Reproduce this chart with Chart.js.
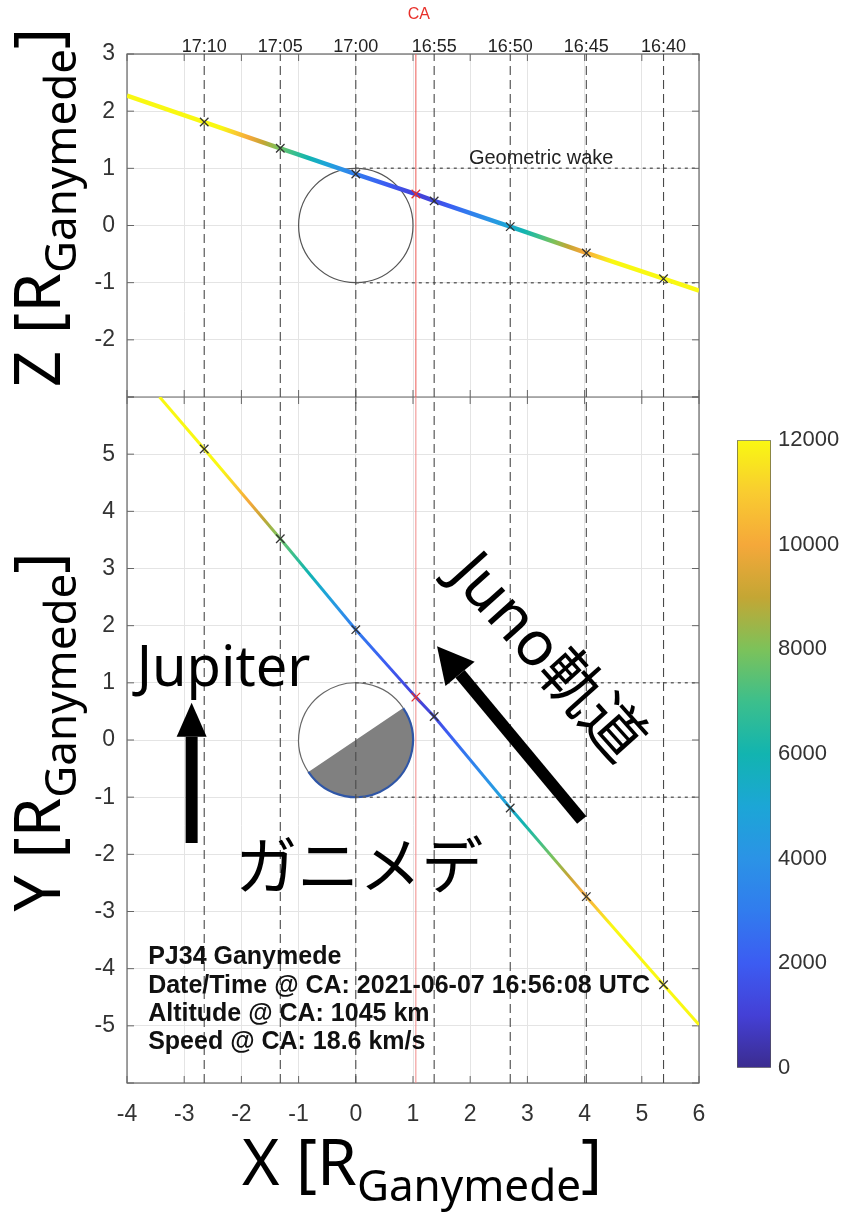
<!DOCTYPE html>
<html lang="ja">
<head>
<meta charset="UTF-8">
<title>PJ34 Ganymede flyby geometry</title>
<script src="https://cdn.jsdelivr.net/npm/chart.js"></script>
<style>
  html, body { margin: 0; padding: 0; background: #fff; }
  #wrap { position: relative; width: 856px; height: 1216px; overflow: hidden; }
  #main { position: absolute; left: 0; top: 0; }
  #cbar { position: absolute; left: 730px; top: 420px; }
</style>
</head>
<body>
<div id="wrap">
  <canvas id="main" width="856" height="1216"></canvas>
  <canvas id="cbar" width="126" height="668"></canvas>
</div>
<script>
// time marks along the trajectory (X position, R_Ganymede)
const timeLabels = ['17:10', '17:05', '17:00', '16:55', '16:50', '16:45', '16:40'];
const timeX = [-2.65, -1.32, 0.0, 1.37, 2.70, 4.03, 5.38];
const caX = 1.05;

// trajectory, X-Z plane (top panel); index 4 is closest approach
const xzX = [-4.0, -2.65, -1.32, 0.0, 1.05, 1.37, 2.70, 4.03, 5.38, 6.0];
const xzZ = [2.27, 1.81, 1.35, 0.90, 0.55, 0.43, -0.02, -0.48, -0.93, -1.14];
// trajectory, X-Y plane (bottom panel)
const xyX = [-3.43, -2.65, -1.32, 0.0, 1.05, 1.37, 2.70, 4.03, 5.38, 6.0];
const xyY = [6.0, 5.09, 3.52, 1.93, 0.75, 0.41, -1.19, -2.74, -4.28, -4.98];
// altitude along the trajectory (km)
const altKm = [16000, 13200, 7800, 3000, 1045, 1300, 5100, 10200, 15600, 17500];
const markIdx = [1, 2, 3, 5, 6, 7, 8];
const caIdx = 4;

// geometric wake boundaries
const wakeLevels = [1, -1];
const wakeFromX = 0, wakeToX = 6;

// colour scale (altitude, km)
const cmapVals = [0, 1000, 2000, 3000, 4000, 5000, 6000, 7000, 8000, 9000, 10000, 11000, 12000];
const cmapCols = ['#3b2c8f', '#4440d6', '#3c5cf2', '#317cee', '#2b93e6', '#1ca6d6', '#12b4b0', '#3cbf8c',
                  '#7cc25a', '#c4a634', '#f5a83a', '#f9cc30', '#f9f812'];
const cbarTicks = [0, 2000, 4000, 6000, 8000, 10000, 12000];

const infoLines = ['PJ34 Ganymede', 'Date/Time @ CA: 2021-06-07 16:56:08 UTC',
                   'Altitude @ CA: 1045 km', 'Speed @ CA: 18.6 km/s'];

Chart.defaults.font.family = '"Liberation Sans", Arial, sans-serif';
Chart.defaults.color = '#333';

function hexRgb(h) {
  return [parseInt(h.slice(1, 3), 16), parseInt(h.slice(3, 5), 16), parseInt(h.slice(5, 7), 16)];
}
function cmap(v) {
  if (v <= cmapVals[0]) return cmapCols[0];
  const n = cmapVals.length - 1;
  if (v >= cmapVals[n]) return cmapCols[n];
  for (let i = 0; i < n; i++) {
    if (v <= cmapVals[i + 1]) {
      const t = (v - cmapVals[i]) / (cmapVals[i + 1] - cmapVals[i]);
      const a = hexRgb(cmapCols[i]), b = hexRgb(cmapCols[i + 1]);
      return 'rgb(' + a.map((c, k) => Math.round(c + (b[k] - c) * t)).join(',') + ')';
    }
  }
}
function segGradient(ctx) {
  const a0 = altKm[ctx.p0DataIndex], a1 = altKm[ctx.p1DataIndex];
  const g = ctx.chart.ctx.createLinearGradient(ctx.p0.x, ctx.p0.y, ctx.p1.x, ctx.p1.y);
  g.addColorStop(0, cmap(a0));
  g.addColorStop(1, cmap(a1));
  cmapVals.forEach((v, i) => {
    const t = (v - a0) / (a1 - a0);
    if (t > 0 && t < 1) g.addColorStop(t, cmapCols[i]);
  });
  return g;
}

const pts = (xs, ys) => xs.map((x, i) => ({ x: x, y: ys[i] }));
const datasets = [];

// trajectories
datasets.push({ data: pts(xzX, xzZ), yAxisID: 'z', showLine: true, pointRadius: 0, borderWidth: 4.5,
                segment: { borderColor: segGradient }, order: 2 });
datasets.push({ data: pts(xyX, xyY), yAxisID: 'y', showLine: true, pointRadius: 0, borderWidth: 3,
                segment: { borderColor: segGradient }, order: 2 });
// time markers
datasets.push({ data: markIdx.map(i => ({ x: xzX[i], y: xzZ[i] })), yAxisID: 'z', pointStyle: 'crossRot',
                pointRadius: 6, borderColor: '#333', borderWidth: 1.3, order: 0 });
datasets.push({ data: markIdx.map(i => ({ x: xyX[i], y: xyY[i] })), yAxisID: 'y', pointStyle: 'crossRot',
                pointRadius: 6, borderColor: '#333', borderWidth: 1.3, order: 0 });
datasets.push({ data: [{ x: xzX[caIdx], y: xzZ[caIdx] }], yAxisID: 'z', pointStyle: 'crossRot',
                pointRadius: 6, borderColor: '#e8302a', borderWidth: 1.3, order: 0 });
datasets.push({ data: [{ x: xyX[caIdx], y: xyY[caIdx] }], yAxisID: 'y', pointStyle: 'crossRot',
                pointRadius: 6, borderColor: '#e8302a', borderWidth: 1.3, order: 0 });
// vertical time lines
const vline = { showLine: true, pointRadius: 0, borderColor: '#4a4a4a', borderWidth: 1.1, borderDash: [9, 5], order: 5 };
timeX.forEach(t => {
  datasets.push(Object.assign({ data: [{ x: t, y: -3 }, { x: t, y: 3 }], yAxisID: 'z' }, vline));
  datasets.push(Object.assign({ data: [{ x: t, y: -6 }, { x: t, y: 6 }], yAxisID: 'y' }, vline));
});
datasets.push({ data: [{ x: caX, y: -3 }, { x: caX, y: 3 }], yAxisID: 'z', showLine: true, pointRadius: 0,
                borderColor: '#ec5a55', borderWidth: 1, order: 4 });
datasets.push({ data: [{ x: caX, y: -6 }, { x: caX, y: 6 }], yAxisID: 'y', showLine: true, pointRadius: 0,
                borderColor: '#f08a88', borderWidth: 1, order: 4 });
// geometric wake
const wake = { showLine: true, pointRadius: 0, borderColor: '#666', borderWidth: 1.5, borderDash: [3, 4], order: 6 };
wakeLevels.forEach(w => {
  datasets.push(Object.assign({ data: [{ x: wakeFromX, y: w }, { x: wakeToX, y: w }], yAxisID: 'z' }, wake));
  datasets.push(Object.assign({ data: [{ x: wakeFromX, y: w }, { x: wakeToX, y: w }], yAxisID: 'y' }, wake));
});

const gridColor = '#e4e4e4';
const tickFont = { size: 23 };

function subTitle(ctx, x, y, rot, main, sub, tail) {
  const mf = '64px "Noto Sans", sans-serif', sf = '44px "Noto Sans", sans-serif';
  ctx.save();
  ctx.translate(x, y);
  ctx.rotate(rot);
  ctx.fillStyle = '#000';
  ctx.textAlign = 'left';
  ctx.textBaseline = 'alphabetic';
  ctx.font = mf; const w1 = ctx.measureText(main).width, w3 = ctx.measureText(tail).width;
  ctx.font = sf; const w2 = ctx.measureText(sub).width;
  let sx = -(w1 + w2 + w3) / 2;
  ctx.font = mf; ctx.fillText(main, sx, 0); sx += w1;
  ctx.font = sf; ctx.fillText(sub, sx, 16); sx += w2;
  ctx.font = mf; ctx.fillText(tail, sx, 0);
  ctx.restore();
}

function arrow(ctx, x0, y0, x1, y1, shaftW, headLen, headW) {
  const a = Math.atan2(y1 - y0, x1 - x0);
  const bx = x1 - Math.cos(a) * headLen, by = y1 - Math.sin(a) * headLen;
  ctx.save();
  ctx.strokeStyle = '#000'; ctx.fillStyle = '#000';
  ctx.lineWidth = shaftW;
  ctx.beginPath(); ctx.moveTo(x0, y0); ctx.lineTo(bx, by); ctx.stroke();
  ctx.beginPath();
  ctx.moveTo(x1, y1);
  ctx.lineTo(bx + Math.sin(a) * headW / 2, by - Math.cos(a) * headW / 2);
  ctx.lineTo(bx - Math.sin(a) * headW / 2, by + Math.cos(a) * headW / 2);
  ctx.closePath(); ctx.fill();
  ctx.restore();
}

const nightAngle = 34; // terminator orientation in degrees

const decor = {
  id: 'decor',
  beforeDatasetsDraw(chart) {
    const ctx = chart.ctx, a = chart.chartArea;
    const xs = chart.scales.x, ys = chart.scales.y, zs = chart.scales.z;
    ctx.save();
    // frame + panel divider
    ctx.strokeStyle = '#666'; ctx.lineWidth = 1.2;
    ctx.strokeRect(a.left, a.top, a.right - a.left, a.bottom - a.top);
    const yd = zs.getPixelForValue(-3);
    ctx.beginPath(); ctx.moveTo(a.left, yd); ctx.lineTo(a.right, yd); ctx.stroke();
    // inner ticks
    ctx.lineWidth = 1;
    xs.ticks.forEach(t => {
      const px = xs.getPixelForValue(t.value);
      [[a.top, 7], [yd, -7], [yd, 7], [a.bottom, -7]].forEach(([py, d]) => {
        ctx.beginPath(); ctx.moveTo(px, py); ctx.lineTo(px, py + d); ctx.stroke();
      });
    });
    [ys, zs].forEach(s => s.ticks.forEach(t => {
      const py = s.getPixelForValue(t.value);
      ctx.beginPath(); ctx.moveTo(a.left, py); ctx.lineTo(a.left + 7, py);
      ctx.moveTo(a.right, py); ctx.lineTo(a.right - 7, py); ctx.stroke();
    }));
    // Ganymede, X-Z
    const cx = xs.getPixelForValue(0), rx = xs.getPixelForValue(1) - cx;
    const cz = zs.getPixelForValue(0), rz = cz - zs.getPixelForValue(1);
    ctx.strokeStyle = '#555'; ctx.lineWidth = 1.2;
    ctx.beginPath(); ctx.ellipse(cx, cz, rx, rz, 0, 0, Math.PI * 2); ctx.stroke();
    // Ganymede, X-Y with night side
    const cy = ys.getPixelForValue(0), ry = cy - ys.getPixelForValue(1);
    const t0 = -nightAngle * Math.PI / 180, t1 = t0 + Math.PI;
    ctx.fillStyle = '#fff';
    ctx.beginPath(); ctx.ellipse(cx, cy, rx, ry, 0, 0, Math.PI * 2); ctx.fill();
    ctx.strokeStyle = '#666';
    ctx.beginPath(); ctx.ellipse(cx, cy, rx, ry, 0, t1, t0 + Math.PI * 2); ctx.stroke();
    ctx.fillStyle = '#808080';
    ctx.beginPath(); ctx.ellipse(cx, cy, rx, ry, 0, t0, t1); ctx.closePath(); ctx.fill();
    ctx.strokeStyle = '#2f56a6'; ctx.lineWidth = 2.2;
    ctx.beginPath(); ctx.ellipse(cx, cy, rx, ry, 0, t0, t1); ctx.stroke();
    ctx.restore();
  },
  afterDatasetsDraw(chart) {
    const ctx = chart.ctx;
    const xs = chart.scales.x, ys = chart.scales.y, zs = chart.scales.z;
    const X = v => xs.getPixelForValue(v), Y = v => ys.getPixelForValue(v), Z = v => zs.getPixelForValue(v);
    ctx.save();
    ctx.fillStyle = '#222';
    ctx.textAlign = 'center'; ctx.textBaseline = 'middle';
    ctx.font = '20px "Liberation Sans", Arial, sans-serif';
    ctx.fillText('Geometric wake', X(3.24), Z(1.17));
    // arrows
    arrow(ctx, X(-2.87), Y(-1.8), X(-2.87), Y(0.65), 12, 34, 30);
    arrow(ctx, X(3.95), Y(-1.4), X(1.42), Y(1.64), 12, 36, 38);
    // labels
    ctx.fillStyle = '#000';
    ctx.textAlign = 'left'; ctx.textBaseline = 'alphabetic';
    ctx.font = '56px "Noto Sans", sans-serif';
    ctx.fillText('Jupiter', X(-3.83), Y(0.94));
    ctx.textAlign = 'center'; ctx.textBaseline = 'middle';
    ctx.font = '62px "Noto Sans CJK JP", sans-serif';
    ctx.fillText('ガニメデ', X(0.06), Y(-2.2));
    ctx.save();
    ctx.translate(X(3.32), Y(1.42));
    ctx.rotate(48 * Math.PI / 180);
    ctx.font = '62px "Noto Sans", "Noto Sans CJK JP", sans-serif';
    ctx.fillText('Juno軌道', 0, 0);
    ctx.restore();
    // info block
    ctx.textAlign = 'left';
    ctx.font = 'bold 25px "Liberation Sans", Arial, sans-serif';
    ctx.fillStyle = '#111';
    [-3.8, -4.3, -4.79, -5.28].forEach((v, i) => ctx.fillText(infoLines[i], X(-3.63), Y(v)));
    ctx.restore();
  },
  afterDraw(chart) {
    const ctx = chart.ctx;
    const xs = chart.scales.x, ys = chart.scales.y, zs = chart.scales.z;
    ctx.save();
    ctx.fillStyle = '#e8302a';
    ctx.textAlign = 'center'; ctx.textBaseline = 'middle';
    ctx.font = '16px "Liberation Sans", Arial, sans-serif';
    ctx.fillText('CA', xs.getPixelForValue(caX) + 3, 15);
    ctx.restore();
    subTitle(ctx, 60, (zs.top + zs.bottom) / 2 - 18, -Math.PI / 2, 'Z [R', 'Ganymede', ']');
    subTitle(ctx, 60, (ys.top + ys.bottom) / 2 - 8, -Math.PI / 2, 'Y [R', 'Ganymede', ']');
    subTitle(ctx, (xs.left + xs.right) / 2 + 9, 1185, 0, 'X [R', 'Ganymede', ']');
  }
};

new Chart(document.getElementById('main'), {
  type: 'scatter',
  data: { datasets: datasets },
  options: {
    responsive: false,
    animation: false,
    events: [],
    layout: { padding: { right: 157 } },
    plugins: { legend: { display: false }, tooltip: { enabled: false } },
    scales: {
      x: {
        type: 'linear', position: 'bottom', min: -4, max: 6,
        ticks: { stepSize: 1, font: tickFont, color: '#333', padding: 18, callback: v => String(v) },
        grid: { color: gridColor, drawTicks: false },
        border: { display: false },
        afterFit: s => { s.height = 133; }
      },
      xt: {
        type: 'linear', position: 'top', min: -4, max: 6,
        afterBuildTicks: s => { s.ticks = timeX.map(v => ({ value: v })); },
        ticks: { autoSkip: false, maxRotation: 0, font: { size: 18 }, color: '#222', padding: -4,
                 callback: (v, i) => timeLabels[i] },
        grid: { display: false, drawTicks: false },
        border: { display: false },
        afterFit: s => { s.height = 54; }
      },
      y: {
        type: 'linear', position: 'left', stack: 'panels', stackWeight: 12, min: -6, max: 6,
        ticks: { stepSize: 1, font: tickFont, color: '#333', padding: 12,
                 callback: v => Math.abs(v) === 6 ? '' : String(v) },
        grid: { color: gridColor, drawTicks: false },
        border: { display: false },
        afterFit: s => { s.width = 127; }
      },
      z: {
        type: 'linear', position: 'left', stack: 'panels', stackWeight: 6, min: -3, max: 3,
        ticks: { stepSize: 1, font: tickFont, color: '#333', padding: 12,
                 callback: v => v === -3 ? '' : String(v) },
        grid: { color: gridColor, drawTicks: false },
        border: { display: false },
        afterFit: s => { s.width = 127; }
      }
    }
  },
  plugins: [decor]
});

// colour bar
function cbarGradient(chart) {
  const s = chart.scales.y;
  if (!s || !chart.chartArea) return cmapCols[0];
  const g = chart.ctx.createLinearGradient(0, s.getPixelForValue(cmapVals[0]), 0,
                                          s.getPixelForValue(cmapVals[cmapVals.length - 1]));
  const span = cmapVals[cmapVals.length - 1] - cmapVals[0];
  cmapVals.forEach((v, i) => g.addColorStop((v - cmapVals[0]) / span, cmapCols[i]));
  return g;
}

new Chart(document.getElementById('cbar'), {
  type: 'bar',
  data: {
    labels: [''],
    datasets: [{
      data: [[cbarTicks[0], cbarTicks[cbarTicks.length - 1]]],
      backgroundColor: c => cbarGradient(c.chart),
      borderColor: '#555', borderWidth: 1, borderSkipped: false,
      barPercentage: 1, categoryPercentage: 1
    }]
  },
  options: {
    responsive: false,
    animation: false,
    events: [],
    layout: { padding: { left: 7, top: 15, bottom: 13 } },
    plugins: { legend: { display: false }, tooltip: { enabled: false } },
    scales: {
      x: { display: false },
      y: {
        position: 'right', min: 0, max: 12000,
        afterBuildTicks: s => { s.ticks = cbarTicks.map(v => ({ value: v })); },
        ticks: { font: { size: 22 }, color: '#333', padding: 7, callback: v => String(v) },
        grid: { display: false, drawTicks: false },
        border: { display: false },
        afterFit: s => { s.width = 85; }
      }
    }
  }
});
</script>
</body>
</html>
